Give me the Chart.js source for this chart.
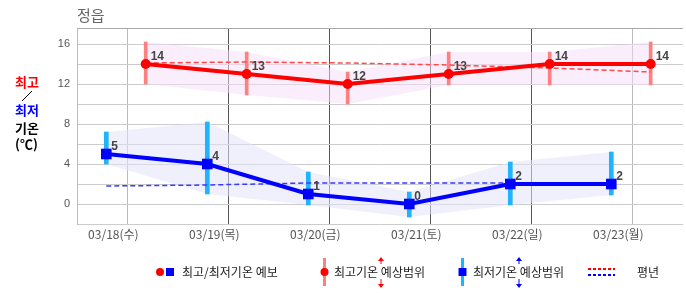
<!DOCTYPE html>
<html>
<head>
<meta charset="utf-8">
<script src="https://cdn.jsdelivr.net/npm/chart.js@4.4.1/dist/chart.umd.min.js"></script>
<style>
    body { margin: 0; background: #fff; }
    #wrap { position: relative; width: 686px; height: 295px; font-family: "Noto Sans CJK KR", sans-serif; }
    #chart { position: absolute; left: 0; top: 0; }
    .abs { position: absolute; white-space: nowrap; }
    .ytitle { font-weight: bold; font-size: 13px; line-height: 13px; left: 15px; }
    .leg { font-size: 12px; line-height: 12px; color: #222; top: 266px; }
</style>
</head>
<body>
<div id="wrap">
    <canvas id="chart" width="686" height="295"></canvas>

    <div class="abs" style="left:77px;top:7px;font-size:15px;line-height:15px;color:#666;">정읍</div>

    <div class="abs ytitle" style="top:75px;color:#f00;">최고</div>
    <svg class="abs" style="left:0;top:0" width="60" height="160">
        <line x1="22" y1="101" x2="32" y2="91" stroke="#000" stroke-width="1"/>
    </svg>
    <div class="abs ytitle" style="top:103px;color:#00f;">최저</div>
    <div class="abs ytitle" style="top:121px;color:#000;">기온</div>
    <div class="abs ytitle" style="top:137px;color:#000;">(℃)</div>

    <!-- legend symbols -->
    <svg class="abs" style="left:0;top:250px" width="686" height="45">
        <circle cx="160" cy="22" r="4" fill="#f00"/>
        <rect x="166" y="18" width="8" height="8" fill="#00f"/>

        <rect x="323" y="8" width="3" height="28" fill="#ff8080"/>
        <circle cx="324.5" cy="22" r="4" fill="#f00"/>
        <line x1="381" y1="10" x2="381" y2="14" stroke="#f00" stroke-width="1"/>
        <polygon points="381,7 378,11 384,11" fill="#f00"/>
        <line x1="381" y1="29" x2="381" y2="34" stroke="#f00" stroke-width="1"/>
        <polygon points="381,38 378,34 384,34" fill="#f00"/>

        <rect x="461" y="8" width="3" height="28" fill="#1eb4ff"/>
        <rect x="458.5" y="18" width="8" height="8" fill="#00f"/>
        <line x1="519" y1="10" x2="519" y2="14" stroke="#00f" stroke-width="1"/>
        <polygon points="519,7 516,11 522,11" fill="#00f"/>
        <line x1="519" y1="29" x2="519" y2="34" stroke="#00f" stroke-width="1"/>
        <polygon points="519,38 516,34 522,34" fill="#00f"/>

        <line x1="588" y1="19" x2="615" y2="19" stroke="#f00" stroke-width="2" stroke-dasharray="3,2"/>
        <line x1="588" y1="25" x2="615" y2="25" stroke="#00f" stroke-width="2" stroke-dasharray="3,2"/>
    </svg>
    <div class="abs leg" style="left:182px;">최고/최저기온 예보</div>
    <div class="abs leg" style="left:334px;">최고기온 예상범위</div>
    <div class="abs leg" style="left:473px;">최저기온 예상범위</div>
    <div class="abs leg" style="left:637px;">평년</div>
</div>

<script>
const categories = ['03/18(수)', '03/19(목)', '03/20(금)', '03/21(토)', '03/22(일)', '03/23(월)'];
const highTemps = [14, 13, 12, 13, 14, 14];
const lowTemps = [5, 4, 1, 0, 2, 2];
const highRangeMin = [12, 10.9, 10, 11.9, 11.9, 11.9];
const highRangeMax = [16.2, 15.2, 13.2, 15.2, 15.2, 16.2];
const lowRangeMin = [4, 1, -0.1, -1.3, -0.1, 0.9];
const lowRangeMax = [7.2, 8.2, 3.2, 1.2, 4.2, 5.2];
const normalHigh = [14.1, 14.2, 14.1, 13.9, 13.6, 13.2];
const normalLow = [1.8, 1.9, 2.1, 2.1, 2.1, 2.1];
const yTicks = [-2, 0, 2, 4, 6, 8, 10, 12, 14, 16];
const yLabelTicks = [0, 4, 8, 12, 16];

// where in each day column the morning low / afternoon high sit
const LOW_POS = 0.29;
const HIGH_POS = 0.68;
const LABEL_POS = 0.36;
const Y_MIN = -2;
const Y_MAX = 17.6;

const pts = (vals, off) => vals.map((v, i) => ({ x: i + off, y: v }));
const rangePts = (lo, hi, off) => lo.map((v, i) => ({ x: i + off, y: [v, hi[i]] }));

const valueLabels = {
    id: 'valueLabels',
    afterDatasetsDraw(chart) {
        const ctx = chart.ctx;
        ctx.save();
        ctx.font = 'bold 12px "Liberation Sans", Arial, sans-serif';
        ctx.fillStyle = '#444';
        ctx.textBaseline = 'alphabetic';
        chart.data.datasets.forEach((ds, di) => {
            if (!ds.showValues) return;
            chart.getDatasetMeta(di).data.forEach((pt, i) => {
                ctx.fillText(String(ds.data[i].y), pt.x + 5, pt.y - 4);
            });
        });
        ctx.restore();
    }
};

new Chart(document.getElementById('chart'), {
    type: 'line',
    data: {
        datasets: [
            {
                label: '최고기온',
                data: pts(highTemps, HIGH_POS),
                borderColor: '#ff0000',
                borderWidth: 4,
                pointStyle: 'circle',
                pointRadius: 5,
                pointBackgroundColor: '#ff0000',
                pointBorderWidth: 0,
                tension: 0,
                showValues: true,
                order: 0
            },
            {
                label: '최저기온',
                data: pts(lowTemps, LOW_POS),
                borderColor: '#0000ff',
                borderWidth: 4,
                pointStyle: 'rect',
                pointRadius: 7.5,
                pointBackgroundColor: '#0000ff',
                pointBorderWidth: 0,
                tension: 0,
                showValues: true,
                order: 0
            },
            {
                label: '평년 최고',
                data: pts(normalHigh, HIGH_POS),
                borderColor: '#ff4a4a',
                borderWidth: 1.5,
                borderDash: [5, 3],
                pointRadius: 0,
                order: 1
            },
            {
                label: '평년 최저',
                data: pts(normalLow, LOW_POS),
                borderColor: '#3a3aff',
                borderWidth: 1.5,
                borderDash: [5, 3],
                pointRadius: 0,
                order: 1
            },
            {
                type: 'bar',
                label: '최고기온 예상범위',
                data: rangePts(highRangeMin, highRangeMax, HIGH_POS),
                backgroundColor: '#ff8080',
                borderWidth: 0,
                barThickness: 3,
                grouped: false,
                order: 2
            },
            {
                type: 'bar',
                label: '최저기온 예상범위',
                data: rangePts(lowRangeMin, lowRangeMax, LOW_POS),
                backgroundColor: '#1eb4ff',
                borderWidth: 0,
                barThickness: 4,
                grouped: false,
                order: 2
            },
            {
                label: 'high band top',
                data: pts(highRangeMax, HIGH_POS),
                borderColor: 'transparent',
                borderWidth: 0,
                pointRadius: 0,
                fill: '+1',
                backgroundColor: 'rgba(248,222,250,0.5)',
                order: 3
            },
            {
                label: 'high band bottom',
                data: pts(highRangeMin, HIGH_POS),
                borderColor: 'transparent',
                borderWidth: 0,
                pointRadius: 0,
                fill: false,
                order: 3
            },
            {
                label: 'low band top',
                data: pts(lowRangeMax, LOW_POS),
                borderColor: 'transparent',
                borderWidth: 0,
                pointRadius: 0,
                fill: '+1',
                backgroundColor: 'rgba(228,228,250,0.55)',
                order: 3
            },
            {
                label: 'low band bottom',
                data: pts(lowRangeMin, LOW_POS),
                borderColor: 'transparent',
                borderWidth: 0,
                pointRadius: 0,
                fill: false,
                order: 3
            }
        ]
    },
    options: {
        responsive: false,
        animation: false,
        layout: { autoPadding: false, padding: { top: 28, right: 3, left: 0, bottom: 0 } },
        plugins: {
            legend: { display: false },
            tooltip: { enabled: false },
            title: { display: false }
        },
        scales: {
            x: {
                type: 'linear',
                position: 'bottom',
                min: 0,
                max: categories.length,
                offset: false,
                afterBuildTicks: s => { s.ticks = categories.map((c, i) => ({ value: i })).concat([{ value: categories.length }]); },
                afterFit: s => { s.height = 0; },
                ticks: { display: false },
                grid: {
                    drawTicks: false,
                    color: ctx => (ctx.tick && ctx.tick.value >= 2 && ctx.tick.value <= 5) ? '#555' : '#bbb'
                },
                border: { display: false }
            },
            x2: {
                type: 'linear',
                position: 'bottom',
                min: 0,
                max: categories.length,
                offset: false,
                afterBuildTicks: s => { s.ticks = categories.map((c, i) => ({ value: i + LABEL_POS })); },
                afterFit: s => { s.height = 71; },
                ticks: {
                    autoSkip: false,
                    maxRotation: 0,
                    padding: 3,
                    color: '#555',
                    font: { family: '"Noto Sans CJK KR", sans-serif', size: 12 },
                    callback: (v, i) => categories[i]
                },
                grid: { display: false, drawTicks: false },
                border: { display: false }
            },
            y: {
                min: Y_MIN,
                max: Y_MAX,
                afterBuildTicks: s => { s.ticks = yTicks.map(v => ({ value: v })).concat([{ value: Y_MAX }]); },
                afterFit: s => { s.width = 77; },
                ticks: {
                    autoSkip: false,
                    padding: 7,
                    color: '#555',
                    font: { family: '"Liberation Sans", Arial, sans-serif', size: 11 },
                    callback: v => yLabelTicks.includes(v) ? v : ''
                },
                grid: {
                    drawTicks: false,
                    color: ctx => (ctx.tick && ctx.tick.value === Y_MAX) ? '#aaa' : '#ccc'
                },
                border: { color: '#bbb' }
            }
        }
    },
    plugins: [valueLabels]
});
</script>
</body>
</html>
